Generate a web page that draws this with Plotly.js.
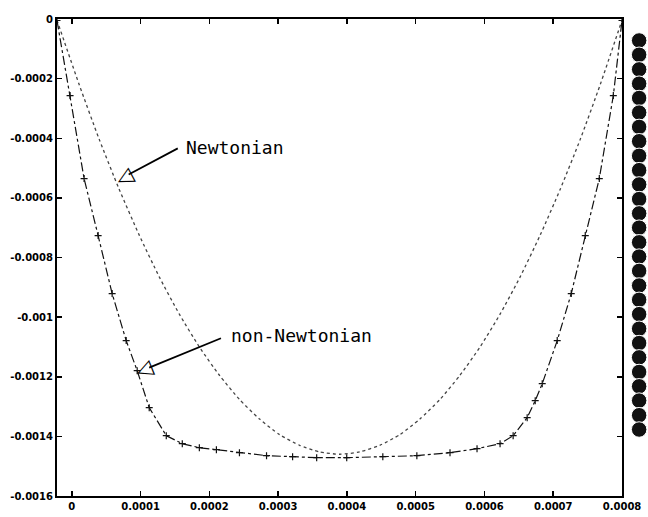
<!DOCTYPE html>
<html>
<head>
<meta charset="utf-8">
<script src="https://cdn.plot.ly/plotly-3.0.1.min.js"></script>
<style>html,body{margin:0;padding:0;background:#fff;}#chart{width:648px;height:517px;}</style>
</head>
<body>
<div id="chart"></div>
<script>
// Newtonian profile (dotted)
const newtX = [-0.0000216, 0.0000105, 0.0000397, 0.0000688, 0.000098, 0.0001271, 0.0001563, 0.0001854, 0.0002146, 0.0002437, 0.0002729, 0.000302, 0.0003312, 0.0003603, 0.0003895, 0.0004187, 0.0004478, 0.000477, 0.0005061, 0.0005353, 0.0005644, 0.0005936, 0.0006227, 0.0006519, 0.000681, 0.0007102, 0.0007394, 0.0007685, 0.0008];
const newtY = [-0.000004, -0.000219, -0.000403, -0.000571, -0.000725, -0.000865, -0.00099, -0.0011, -0.001195, -0.001276, -0.001342, -0.001394, -0.00143, -0.001452, -0.00146, -0.001452, -0.00143, -0.001394, -0.001342, -0.001276, -0.001195, -0.0011, -0.00099, -0.000865, -0.000725, -0.000571, -0.000403, -0.000219, -0.000004];

// non-Newtonian profile (dash-dot with + markers)
const nonX = [-0.0000216, -0.0000026, 0.0000178, 0.0000382, 0.0000586, 0.000079, 0.000095, 0.0001125, 0.0001373, 0.0001606, 0.0001854, 0.0002102, 0.0002437, 0.0002831, 0.000321, 0.000356, 0.0003997, 0.0004522, 0.0005017, 0.0005499, 0.0005892, 0.0006227, 0.0006417, 0.0006621, 0.0006738, 0.000684, 0.0007058, 0.0007262, 0.0007466, 0.000767, 0.0007874, 0.0008];
const nonY = [-0.000005, -0.0002567, -0.0005352, -0.0007265, -0.0009211, -0.0010788, -0.0011795, -0.0013037, -0.0013977, -0.0014245, -0.0014379, -0.0014446, -0.0014547, -0.0014648, -0.0014681, -0.0014715, -0.0014715, -0.0014681, -0.0014648, -0.0014547, -0.0014413, -0.0014245, -0.0013977, -0.0013372, -0.0012802, -0.0012232, -0.0010788, -0.0009211, -0.0007265, -0.0005352, -0.0002567, -0.000005];

// column of dots at the right edge
const dotY = [-0.000072, -0.000120, -0.000169, -0.000217, -0.000265, -0.000314, -0.000362, -0.000410, -0.000459, -0.000507, -0.000555, -0.000604, -0.000652, -0.000700, -0.000749, -0.000797, -0.000845, -0.000894, -0.000942, -0.000990, -0.001039, -0.001087, -0.001135, -0.001184, -0.001232, -0.001280, -0.001329, -0.001377];

const xTickVals = [0, 0.0001, 0.0002, 0.0003, 0.0004, 0.0005, 0.0006, 0.0007, 0.0008];
const xTickText = ['0', '0.0001', '0.0002', '0.0003', '0.0004', '0.0005', '0.0006', '0.0007', '0.0008'];
const yTickVals = [0, -0.0002, -0.0004, -0.0006, -0.0008, -0.001, -0.0012, -0.0014, -0.0016];
const yTickText = ['0', '-0.0002', '-0.0004', '-0.0006', '-0.0008', '-0.001', '-0.0012', '-0.0014', '-0.0016'];

const traces = [
  {x: newtX, y: newtY, mode: 'lines', type: 'scatter',
   line: {color: '#444', width: 1.3, dash: 'dot', shape: 'spline', smoothing: 0.6}, hoverinfo: 'skip'},
  {x: nonX, y: nonY, mode: 'lines+markers', type: 'scatter',
   line: {color: '#111', width: 1.2, dash: 'dashdot'},
   marker: {symbol: 'cross-thin', size: 5, color: '#111', line: {color: '#111', width: 1.2}}, hoverinfo: 'skip'},
  {x: dotY.map(() => 1), y: dotY, xaxis: 'x2', yaxis: 'y', mode: 'markers', type: 'scatter', cliponaxis: false,
   marker: {symbol: 'circle', size: 15.5, color: '#111', line: {color: '#fff', width: 1}}, hoverinfo: 'skip'}
];

const tickFont = {family: 'DejaVu Sans', size: 10, weight: 'bold', color: '#000'};
const annFont = {family: 'DejaVu Sans Mono', size: 18, color: '#000'};

const layout = {
  width: 648, height: 517,
  margin: {l: 57, r: 0, t: 19, b: 21},
  paper_bgcolor: '#fff', plot_bgcolor: '#fff',
  showlegend: false,
  xaxis: {domain: [0, 0.956], range: [-0.0000216, 0.0008], tickvals: xTickVals, ticktext: xTickText,
          ticks: 'inside', ticklen: 5, tickwidth: 1.5, tickcolor: '#000',
          showline: true, linewidth: 2, linecolor: '#000', mirror: 'ticks',
          showgrid: false, zeroline: false, tickfont: tickFont},
  yaxis: {range: [-0.0016, 0], tickvals: yTickVals, ticktext: yTickText,
          ticks: 'inside', ticklen: 5, tickwidth: 1.5, tickcolor: '#000',
          showline: true, linewidth: 2, linecolor: '#000', mirror: 'ticks',
          showgrid: false, zeroline: false, tickfont: tickFont},
  xaxis2: {domain: [0.97, 1], range: [0, 2], anchor: 'y', visible: false},
  annotations: [
    {x: 0.0000659, y: -0.0005419, ax: 0.0001562, ay: -0.0004312, axref: 'x', ayref: 'y', xref: 'x', yref: 'y',
     text: '', showarrow: true, arrowhead: 0, arrowwidth: 1.8, arrowcolor: '#000', standoff: 13},
    {x: 0.0000659, y: -0.0005419, xref: 'x', yref: 'y', text: '◁', showarrow: false, textangle: -28,
     xshift: 7, yshift: 4, font: {family: 'DejaVu Sans', size: 21, color: '#000'}},
    {x: 0.0001636, y: -0.0004312, xref: 'x', yref: 'y', text: 'Newtonian', showarrow: false,
     xanchor: 'left', yanchor: 'middle', font: annFont},
    {x: 0.000095, y: -0.0011862, ax: 0.000219, ay: -0.0010688, axref: 'x', ayref: 'y', xref: 'x', yref: 'y',
     text: '', showarrow: true, arrowhead: 0, arrowwidth: 1.8, arrowcolor: '#000', standoff: 13},
    {x: 0.000095, y: -0.0011862, xref: 'x', yref: 'y', text: '◁', showarrow: false, textangle: -22,
     xshift: 7, yshift: 3.5, font: {family: 'DejaVu Sans', size: 21, color: '#000'}},
    {x: 0.0002292, y: -0.0010621, xref: 'x', yref: 'y', text: 'non-Newtonian', showarrow: false,
     xanchor: 'left', yanchor: 'middle', font: annFont}
  ]
};

Plotly.newPlot('chart', traces, layout, {displayModeBar: false, staticPlot: true});
</script>
</body>
</html>
